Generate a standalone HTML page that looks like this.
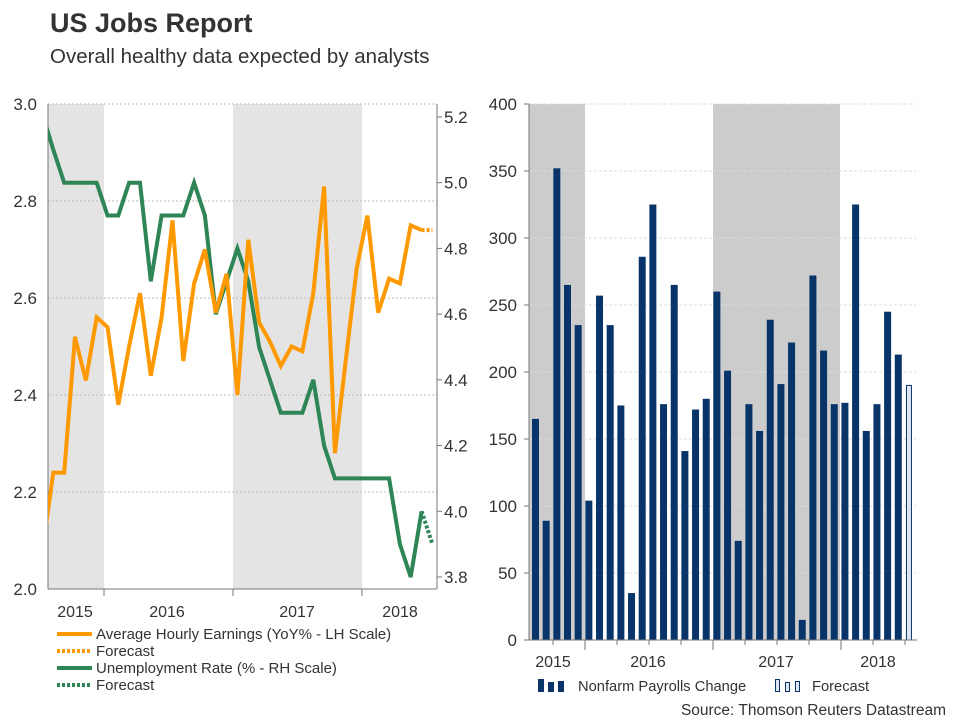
<!DOCTYPE html>
<html><head><meta charset="utf-8"><style>
body{margin:0;background:#fff;font-family:"Liberation Sans",sans-serif;}
svg text{font-family:"Liberation Sans",sans-serif;fill:#333;}
</style></head><body>
<svg id="c" width="960" height="720" xmlns="http://www.w3.org/2000/svg">
<text x="50" y="32" font-size="27" font-weight="bold" fill="#333">US Jobs Report</text>
<text x="50" y="63" font-size="20.5">Overall healthy data expected by analysts</text>
<g id="left"></g>
<g id="right"></g>
<g>
<line x1="57" y1="634" x2="92" y2="634" stroke="#ff9900" stroke-width="4"/>
<text x="96" y="639" font-size="15">Average Hourly Earnings (YoY% - LH Scale)</text>
<line x1="57" y1="651" x2="92" y2="651" stroke="#ff9900" stroke-width="4" stroke-dasharray="3,2"/>
<text x="96" y="656" font-size="15">Forecast</text>
<line x1="57" y1="668" x2="92" y2="668" stroke="#2e8555" stroke-width="4"/>
<text x="96" y="673" font-size="15">Unemployment Rate (% - RH Scale)</text>
<line x1="57" y1="685" x2="92" y2="685" stroke="#2e8555" stroke-width="4" stroke-dasharray="3,2"/>
<text x="96" y="690" font-size="15">Forecast</text>
</g>
<g>
<rect x="538" y="679" width="6" height="13" fill="#08346a"/><rect x="548" y="682" width="6" height="10" fill="#08346a"/><rect x="558" y="681" width="6" height="11" fill="#08346a"/>
<text x="578" y="691" font-size="14.7">Nonfarm Payrolls Change</text>
<rect x="775.5" y="679.5" width="4" height="12" fill="#dde6f0" stroke="#08346a"/><rect x="785.5" y="682.5" width="4" height="9" fill="#dde6f0" stroke="#08346a"/><rect x="795.5" y="681.5" width="4" height="10" fill="#dde6f0" stroke="#08346a"/>
<text x="812" y="691" font-size="14.7">Forecast</text>
</g>
<text x="946" y="715" font-size="15.5" text-anchor="end">Source: Thomson Reuters Datastream</text>
</svg>
<script>
const earnings=[2.08,2.24,2.24,2.52,2.43,2.56,2.54,2.38,2.5,2.61,2.44,2.56,2.76,2.47,2.63,2.7,2.57,2.65,2.4,2.72,2.55,2.51,2.46,2.5,2.49,2.61,2.83,2.28,2.47,2.66,2.77,2.57,2.64,2.63,2.75,2.74];
const earningsForecast=[2.74,2.74];
const unemployment=[5.21,5.1,5.0,5.0,5.0,5.0,4.9,4.9,5.0,5.0,4.7,4.9,4.9,4.9,5.0,4.9,4.6,4.7,4.8,4.7,4.5,4.4,4.3,4.3,4.3,4.4,4.2,4.1,4.1,4.1,4.1,4.1,4.1,3.9,3.8,4.0];
const unemploymentForecast=[4.0,3.9];
const leftTicks=[2.0,2.2,2.4,2.6,2.8,3.0];
const rightTicks=[3.8,4.0,4.2,4.4,4.6,4.8,5.0,5.2];
const payrolls=[165,89,352,265,235,104,257,235,175,35,286,325,176,265,141,172,180,260,201,74,176,156,239,191,222,15,272,216,176,177,325,156,176,245,213];
const payrollsForecast=[190];
const barTicks=[0,50,100,150,200,250,300,350,400];
const years=['2015','2016','2017','2018'];

const NS='http://www.w3.org/2000/svg';
function mk(p,t,a){const e=document.createElementNS(NS,t);for(const k in a)e.setAttribute(k,a[k]);p.appendChild(e);return e;}
const L=document.getElementById('left'),R=document.getElementById('right');
const xL=i=>42.5+i*10.83, yL=v=>589-(v-2)*485, yR=v=>577-(v-3.8)*328.6;
[[48,104],[233,362]].forEach(s=>{const r=mk(L,'rect',{x:s[0],y:104,width:s[1]-s[0],height:485,fill:'#e4e4e4'});

});
leftTicks.forEach(v=>{if(v>2)mk(L,'line',{x1:48,x2:437,y1:yL(v),y2:yL(v),stroke:'#bbb','stroke-dasharray':'2,2'});
const t=mk(L,'text',{x:37,y:yL(v)+6,'font-size':17,'text-anchor':'end'});t.textContent=v.toFixed(1);

});
rightTicks.forEach(v=>{mk(L,'line',{x1:437,x2:442,y1:yR(v),y2:yR(v),stroke:'#777'});
const t=mk(L,'text',{x:444,y:yR(v)+6,'font-size':17});t.textContent=v.toFixed(1);

});
mk(L,'line',{x1:48,x2:48,y1:104,y2:589,stroke:'#777'});
mk(L,'line',{x1:437,x2:437,y1:104,y2:589,stroke:'#777'});
mk(L,'line',{x1:48,x2:437,y1:589,y2:589,stroke:'#777'});
[104,233,362].forEach(x=>mk(L,'line',{x1:x,x2:x,y1:589,y2:596,stroke:'#777'}));
[75,167,297,400].forEach((x,i)=>{const t=mk(L,'text',{x:x,y:617,'font-size':16,'text-anchor':'middle'});t.textContent=years[i];

});
const cp=mk(L,'clipPath',{id:'clipL'});mk(cp,'rect',{x:48,y:100,width:389,height:500});
function line(arr,yf,start,col,dash,name){const d=arr.map((v,i)=>(i?'L':'M')+xL(start+i).toFixed(1)+','+yf(v).toFixed(1)).join('');
const p=mk(L,'path',{d:d,fill:'none',stroke:col,'stroke-width':4,'clip-path':'url(#clipL)'});
if(dash)p.setAttribute('stroke-dasharray','3,2');

}
line(unemployment,yR,0,'#2e8555',false,'unemployment-line');
line(unemploymentForecast,yR,35,'#2e8555',true,'unemployment-forecast-line');
line(earnings,yL,0,'#ff9900',false,'earnings-line');
line(earningsForecast,yL,35,'#ff9900',true,'earnings-forecast-line');

const xB=i=>535.5+i*10.67, yB=v=>640-v*1.34;
[[529,585],[713,840]].forEach(s=>{const r=mk(R,'rect',{x:s[0],y:104,width:s[1]-s[0],height:536,fill:'#cccccc'});

});
barTicks.forEach(v=>{if(v>0)mk(R,'line',{x1:529,x2:916,y1:yB(v),y2:yB(v),stroke:'#ddd','stroke-dasharray':'3,2'});
mk(R,'line',{x1:524,x2:529,y1:yB(v),y2:yB(v),stroke:'#777'});
const t=mk(R,'text',{x:517,y:yB(v)+6,'font-size':17,'text-anchor':'end'});t.textContent=v;

});
payrolls.forEach((v,i)=>{const r=mk(R,'rect',{x:xB(i)-3.5,y:yB(v),width:7,height:640-yB(v),fill:'#08346a'});

});
payrollsForecast.forEach((v,j)=>{const i=payrolls.length+j;const r=mk(R,'rect',{x:xB(i)-2.5,y:yB(v),width:5,height:640-yB(v),fill:'#dde6f0',stroke:'#08346a'});

});
mk(R,'line',{x1:529,x2:529,y1:104,y2:640,stroke:'#777'});
mk(R,'line',{x1:529,x2:917,y1:640,y2:640,stroke:'#777'});
for(let k=0;k<12;k++){const x=553+k*32;mk(R,'line',{x1:x,x2:x,y1:640,y2:(k%4==1?650:645),stroke:'#777'});}
[553,648,776,878].forEach((x,i)=>{const t=mk(R,'text',{x:x,y:667,'font-size':16,'text-anchor':'middle'});t.textContent=years[i];

});
</script>
</body></html>
